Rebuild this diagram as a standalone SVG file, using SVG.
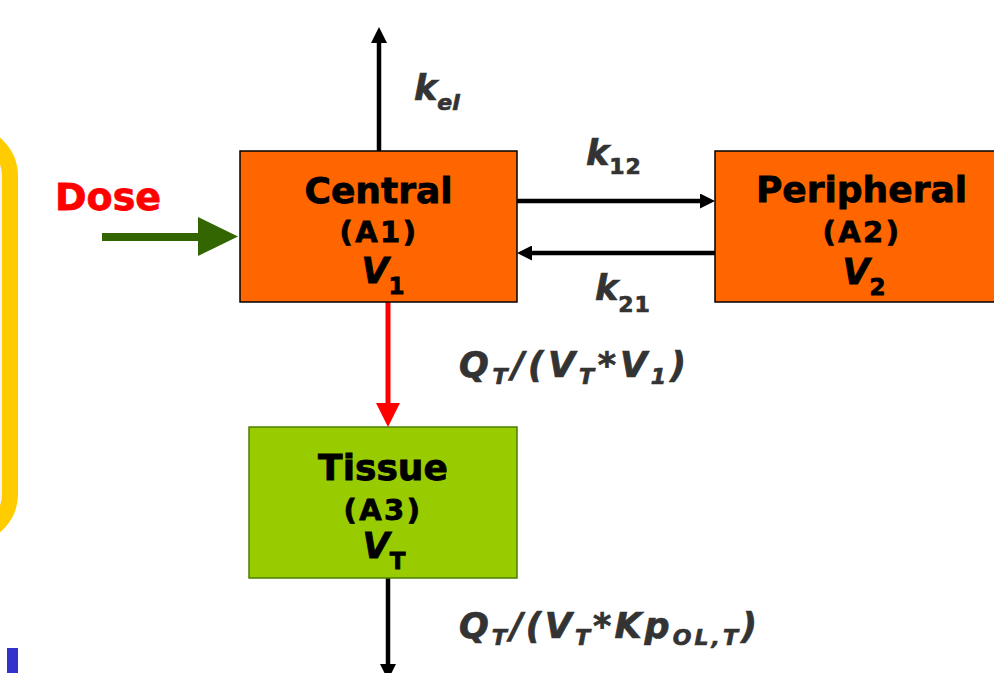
<svg xmlns="http://www.w3.org/2000/svg" width="994" height="673" viewBox="0 0 994 673">
<style>
  .t { font-family: "DejaVu Sans", Verdana, sans-serif; font-weight: bold; fill: #000; stroke: #000; stroke-width: 0.8px; }
  .title { font-size: 36px; text-anchor: middle; }
  .id { font-size: 29px; text-anchor: middle; letter-spacing: 2.5px; }
  .vol { font-size: 35px; text-anchor: middle; }
  .it { font-style: italic; }
  .sub { font-size: 23px; font-style: normal; }
  .lbl { font-family: "DejaVu Sans", Verdana, sans-serif; font-weight: bold; font-style: italic; fill: #333333; stroke: #333333; stroke-width: 0.7px; font-size: 35px; }
  .lsub { font-size: 22px; }
  .box { stroke: #000; stroke-width: 1.5; }
  .conn { fill: none; stroke: #000; stroke-width: 4.5; }
</style>
<defs>
  <marker id="ah" viewBox="0 0 15 15" refX="5" refY="7.5" markerWidth="15" markerHeight="15" orient="auto" markerUnits="userSpaceOnUse">
    <path d="M0,0 L15,7.5 L0,15 z" fill="#000"/>
  </marker>
  <marker id="ahv" viewBox="0 0 16 16" refX="5" refY="8" markerWidth="16" markerHeight="16" orient="auto" markerUnits="userSpaceOnUse">
    <path d="M0,0 L16,8 L0,16 z" fill="#000"/>
  </marker>
  <marker id="ahr" viewBox="0 0 24 24" refX="6" refY="12" markerWidth="24" markerHeight="24" orient="auto" markerUnits="userSpaceOnUse">
    <path d="M0,0 L24,12 L0,24 z" fill="#FF0000"/>
  </marker>
</defs>
<rect width="994" height="673" fill="#FFFFFF"/>

<!-- decorative background shapes -->
<rect x="-400" y="134" width="410" height="402" rx="42" fill="#FDEFF8" stroke="#FFCC00" stroke-width="16"/>
<rect x="7" y="648" width="11" height="30" fill="#3333CC"/>

<g id="connectors">
  <!-- dose -->
  <line x1="102" y1="237" x2="200" y2="237" stroke="#336600" stroke-width="8"/>
  <polygon points="198,217 238,236.5 198,256" fill="#336600"/>
  <!-- elimination -->
  <line class="conn" x1="379" y1="151" x2="379" y2="38" marker-end="url(#ahv)"/>
  <!-- k12 -->
  <line class="conn" x1="517" y1="201" x2="705" y2="201" marker-end="url(#ah)"/>
  <!-- k21 -->
  <line class="conn" x1="715" y1="253" x2="527" y2="253" marker-end="url(#ah)"/>
  <!-- central to tissue -->
  <line x1="388" y1="302" x2="388" y2="409" stroke="#FF0000" stroke-width="5" marker-end="url(#ahr)"/>
  <!-- tissue out -->
  <line class="conn" x1="388" y1="578" x2="388" y2="669" marker-end="url(#ahv)"/>
</g>

<g id="dose">
  <text x="55" y="210" style="font-family:'DejaVu Sans',Verdana,sans-serif;font-weight:bold;font-size:38px;fill:#FF0000;stroke:#FF0000;stroke-width:0.8px">Dose</text>
</g>

<g id="central">
  <rect class="box" x="240" y="151" width="277" height="151" fill="#FF6600"/>
  <text class="t title" x="378.5" y="203">Central</text>
  <text class="t id" x="379" y="242">(A1)</text>
  <text class="t vol" x="383" y="283"><tspan class="it">V</tspan><tspan class="sub" dy="11">1</tspan></text>
</g>

<g id="peripheral">
  <rect class="box" x="715" y="151" width="293" height="151" fill="#FF6600"/>
  <text class="t title" x="861.5" y="202">Peripheral</text>
  <text class="t id" x="862" y="242">(A2)</text>
  <text class="t vol" x="864" y="284"><tspan class="it">V</tspan><tspan class="sub" dy="11">2</tspan></text>
</g>

<g id="tissue">
  <rect x="249" y="427" width="268" height="151" fill="#99CC00" stroke="#4D7F00" stroke-width="1.5"/>
  <text class="t title" x="383" y="480">Tissue</text>
  <text class="t id" x="383" y="520">(A3)</text>
  <text class="t vol" x="384" y="558"><tspan class="it">V</tspan><tspan class="sub" dy="11">T</tspan></text>
</g>

<g id="labels">
  <text class="lbl" x="414" y="100">k<tspan class="lsub" dy="10">el</tspan></text>
  <text class="lbl" x="586" y="165">k<tspan class="lsub" dy="9" style="font-style:normal" letter-spacing="1">12</tspan></text>
  <text class="lbl" x="595" y="300">k<tspan class="lsub" dy="12" style="font-style:normal" letter-spacing="1">21</tspan></text>
  <text class="lbl" x="459" y="377" textLength="227" lengthAdjust="spacing">Q<tspan class="lsub" dy="7">T</tspan><tspan dy="-7">/(V</tspan><tspan class="lsub" dy="7">T</tspan><tspan dy="-7">*V</tspan><tspan class="lsub" dy="7">1</tspan><tspan dy="-7">)</tspan></text>
  <text class="lbl" x="459" y="638" textLength="298" lengthAdjust="spacing">Q<tspan class="lsub" dy="7">T</tspan><tspan dy="-7">/(V</tspan><tspan class="lsub" dy="7">T</tspan><tspan dy="-7">*Kp</tspan><tspan class="lsub" dy="7">OL,T</tspan><tspan dy="-7">)</tspan></text>
</g>
</svg>
